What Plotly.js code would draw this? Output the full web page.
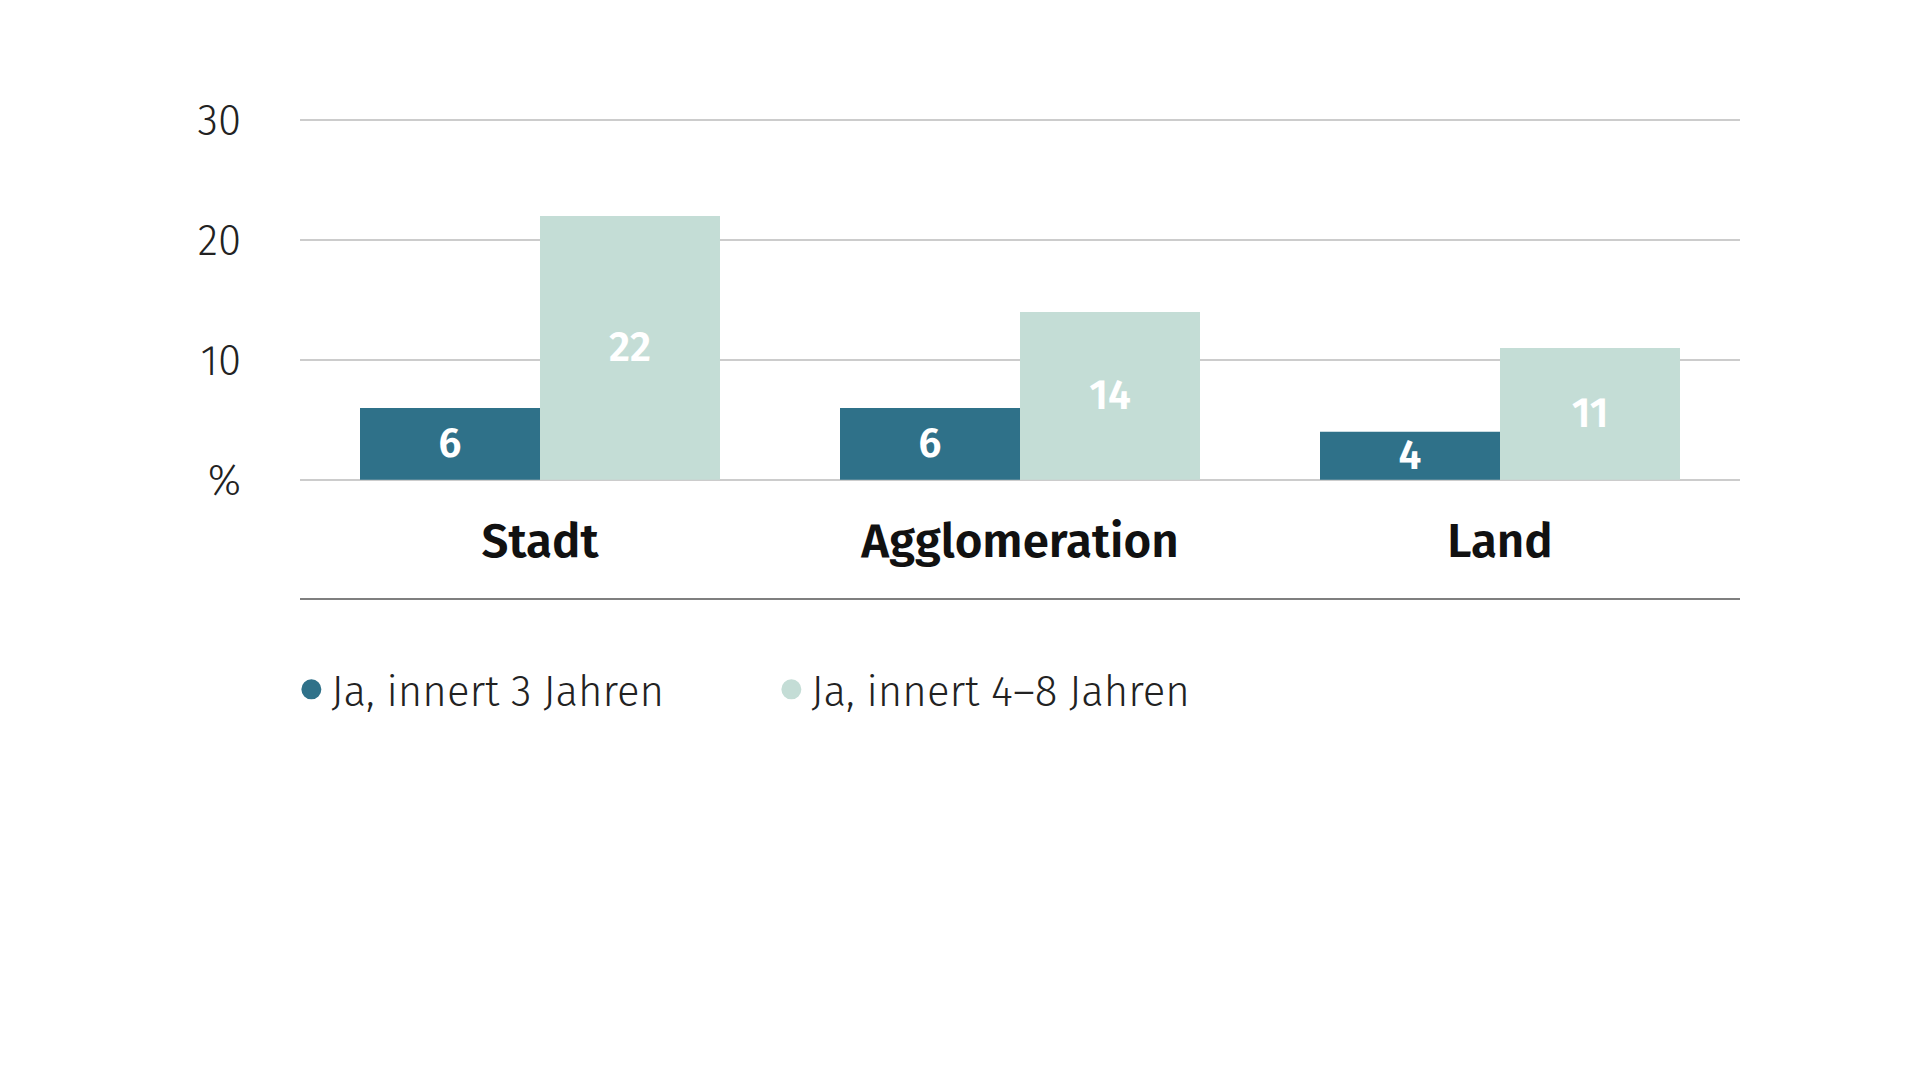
<!DOCTYPE html>
<html>
<head>
<meta charset="utf-8">
<script src="https://cdn.plot.ly/plotly-3.0.1.min.js"></script>
<style>html,body{margin:0;padding:0;background:#fff;}#chart{width:1920px;height:1080px;}</style>
</head>
<body>
<div id="chart"></div>
<script>
const categories = ["Stadt", "Agglomeration", "Land"];
const seriesNames = ["Ja, innert 3 Jahren", "Ja, innert 4–8 Jahren"];
const values3 = [6, 6, 4];
const values48 = [22, 14, 11];
const yTickVals = [0, 10, 20, 30];
const yTickText = ["%", "10", "20", "30"];

const colors = ["#2f7189", "#c4ddd6"];
const FONT = "Fira Sans, Open Sans, Noto Sans, sans-serif";

const barText = v => v.map(String);
const labelFont = {family: FONT, size: 41, color: "#ffffff", weight: 600};

const traces = [
  {
    type: "bar", x: categories, y: values3, name: seriesNames[0],
    marker: {color: colors[0]}, showlegend: false,
    text: barText(values3), textposition: "inside", insidetextanchor: "middle",
    textangle: 0, constraintext: "none",
    textfont: labelFont, insidetextfont: labelFont,
    hoverinfo: "skip", cliponaxis: false
  },
  {
    type: "bar", x: categories, y: values48, name: seriesNames[1],
    marker: {color: colors[1]}, showlegend: false,
    text: barText(values48), textposition: "inside", insidetextanchor: "middle",
    textangle: 0, constraintext: "none",
    textfont: labelFont, insidetextfont: labelFont,
    hoverinfo: "skip", cliponaxis: false
  },
  {
    type: "scatter", mode: "markers", x: [null], y: [null], name: seriesNames[0],
    marker: {color: colors[0], size: 24, symbol: "circle", line: {color: colors[0], width: 4}}, showlegend: true
  },
  {
    type: "scatter", mode: "markers", x: [null], y: [null], name: seriesNames[1],
    marker: {color: colors[1], size: 24, symbol: "circle", line: {color: colors[1], width: 4}}, showlegend: true
  }
];

const layout = {
  width: 1920, height: 1080,
  margin: {l: 300, r: 180, t: 119, b: 599, pad: 0},
  paper_bgcolor: "#ffffff", plot_bgcolor: "#ffffff",
  barmode: "group", bargap: 0.25, bargroupgap: 0,
  font: {family: FONT, color: "#1a1a1a"},
  xaxis: {
    type: "category", showgrid: false, zeroline: false, showline: false,
    ticks: "", ticklabelstandoff: 27,
    tickfont: {family: FONT, size: 47.5, color: "#111111", weight: 600},
    fixedrange: true
  },
  yaxis: {
    range: [-0.1, 30.1], tickvals: yTickVals, ticktext: yTickText,
    showgrid: true, gridcolor: "#cccccc", gridwidth: 1.5,
    zeroline: false, showline: false, ticks: "",
    ticklabelstandoff: 58,
    tickfont: {family: FONT, size: 42, color: "#222222", weight: 300},
    fixedrange: true
  },
  showlegend: true,
  legend: {
    orientation: "h", x: -0.006, xanchor: "left", y: -0.576, yanchor: "middle",
    font: {family: FONT, size: 42, color: "#222222", weight: 300},
    entrywidth: 435, entrywidthmode: "pixels",
    itemclick: false, itemdoubleclick: false, bgcolor: "rgba(0,0,0,0)"
  },
  shapes: [
    {type: "line", xref: "paper", yref: "paper", x0: 0, x1: 1, y0: -0.326, y1: -0.326,
     line: {color: "#555555", width: 1.5}}
  ]
};

Plotly.newPlot("chart", traces, layout, {displayModeBar: false, staticPlot: true});
</script>
</body>
</html>
